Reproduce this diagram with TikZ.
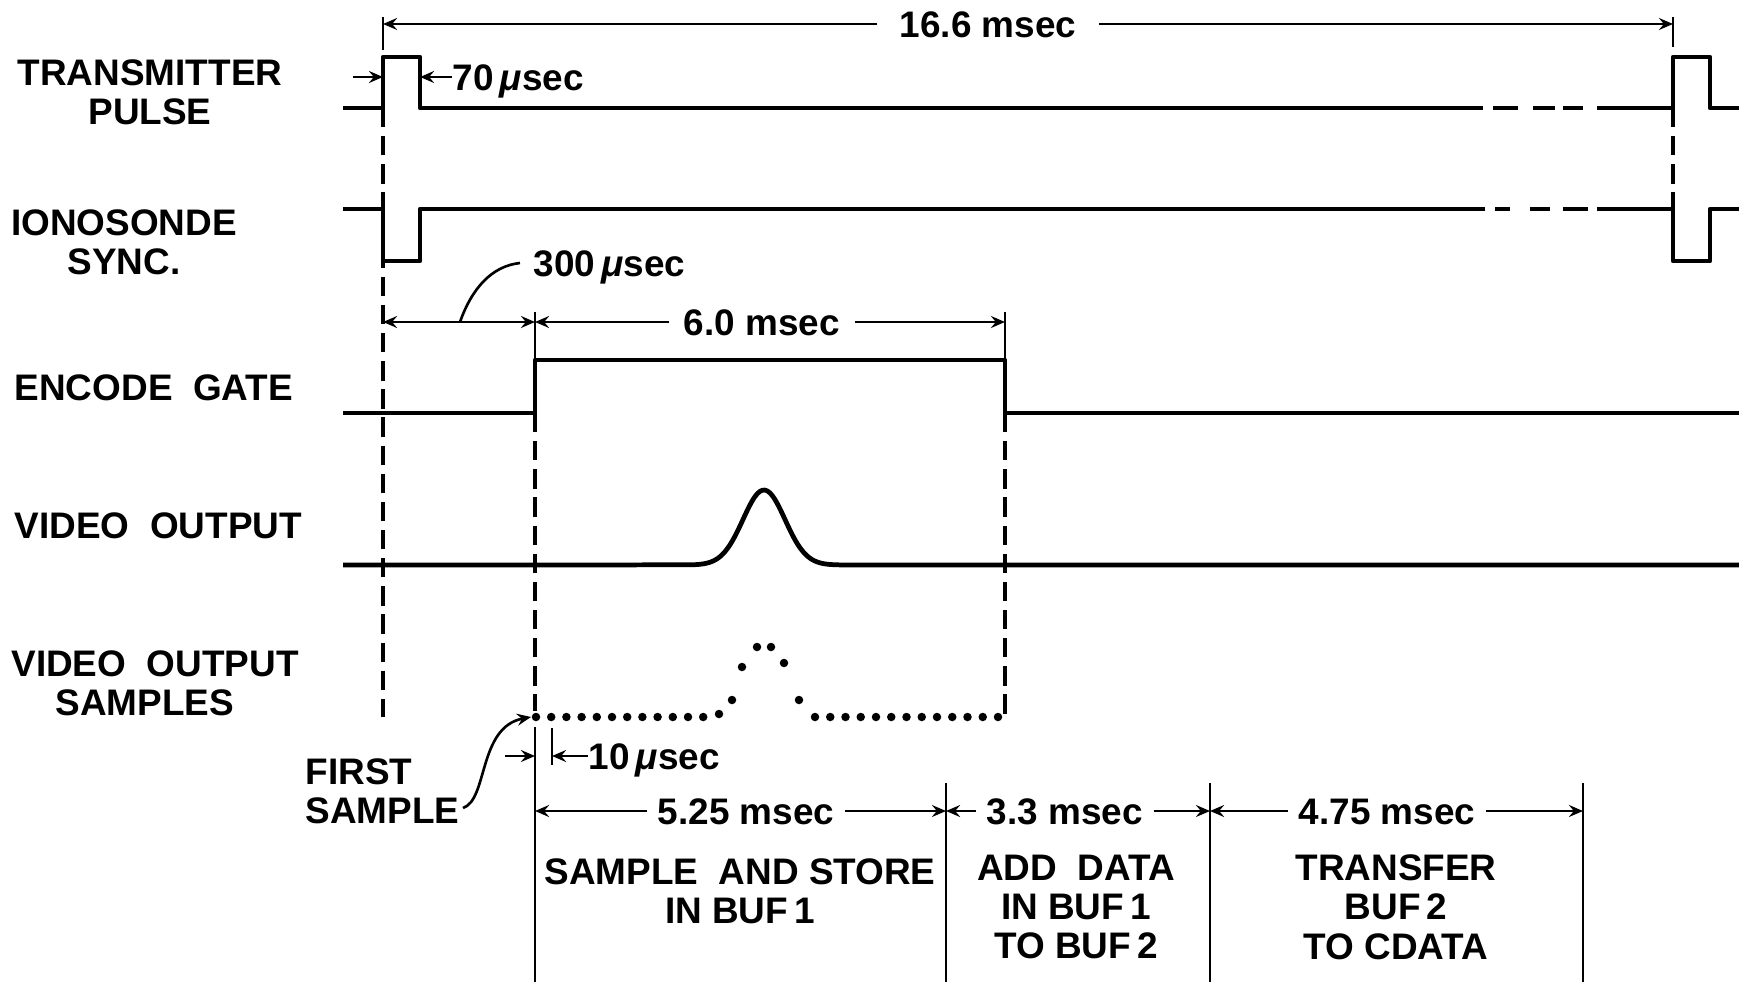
\documentclass[tikz,border=0pt]{standalone}
\usepackage{fontspec}
\setmainfont{Liberation Sans}
\usetikzlibrary{arrows.meta, positioning}

\newcommand{\musec}{{\itshape μ}sec}

\tikzset{
  wave/.style={line width=1.35pt, line join=round},
  guide/.style={line width=1pt, dash pattern=on 5.5pt off 2.5pt},
  dimline/.style={line width=0.75pt},
  dimtip/.style={-{Stealth[length=4pt, width=3.4pt, inset=1.4pt]}},
  dimboth/.style={{Stealth[length=4pt, width=3.4pt, inset=1.4pt]}-{Stealth[length=4pt, width=3.4pt, inset=1.4pt]}},
  sig/.style={font=\fontsize{10.5}{11.2}\selectfont\bfseries, align=center, inner sep=0pt},
  val/.style={font=\fontsize{10.5}{11.2}\selectfont\bfseries, inner sep=0pt, text height=7.6pt, text depth=0pt},
  sampledot/.style={circle, fill, inner sep=0pt, minimum size=0.085cm},
}

\begin{document}
\begin{tikzpicture}[x=0.01cm, y=-0.01cm]

\useasboundingbox (0,0) rectangle (1739,982);

\def \xstart{343}
\def \xend{1739}
\def \xtxon{383}     % transmitter pulse
\def \xtxoff{420}
\def \xgateon{535}   % encode gate
\def \xgateoff{1005}
\def \xnexton{1673}  % next transmitter pulse
\def \xnextoff{1710}
\def \xstore{946}    % end of sample and store
\def \xadd{1210}     % end of add data
\def \xcopy{1583}    % end of transfer

\def \ytop{24}
\def \ytxlo{108}
\def \ytxhi{57}
\def \ysynhi{209}
\def \ysynlo{261}
\def \ygatedim{322}
\def \ygatehi{360}
\def \ygatelo{413}
\def \yvid{565}
\def \ysmp{717}
\def \yphase{811}

% signal names from top to bottom
\node[sig] (tx) at (150,92) {TRANSMITTER\\PULSE};
\node[sig] (sync) at (124,242) {IONOSONDE\\SYNC.};
\node[sig, anchor=west] (gate) at (14,388) {ENCODE\ \ GATE};
\node[sig, anchor=west] (video) at (14,526) {VIDEO\ \ OUTPUT};
\node[sig] (samples) at (155,683) {VIDEO\ \ OUTPUT\\SAMPLES\ \ \ };
\node[sig, align=left, anchor=west] (first) at (305,791) {FIRST\\SAMPLE};

% transmitter pulse
\draw[wave] (\xstart,\ytxlo) -- (\xtxon,\ytxlo) -- (\xtxon,\ytxhi) -- (\xtxoff,\ytxhi) -- (\xtxoff,\ytxlo) -- (1483,\ytxlo);
\draw[wave] (1493,\ytxlo) -- (1518,\ytxlo) (1533,\ytxlo) -- (1555,\ytxlo) (1563,\ytxlo) -- (1583,\ytxlo);
\draw[wave] (1597,\ytxlo) -- (\xnexton,\ytxlo) -- (\xnexton,\ytxhi) -- (\xnextoff,\ytxhi) -- (\xnextoff,\ytxlo) -- (\xend,\ytxlo);

% ionosonde sync
\draw[wave] (\xstart,\ysynhi) -- (\xtxon,\ysynhi) -- (\xtxon,\ysynlo) -- (\xtxoff,\ysynlo) -- (\xtxoff,\ysynhi) -- (1485,\ysynhi);
\draw[wave] (1495,\ysynhi) -- (1510,\ysynhi) (1530,\ysynhi) -- (1550,\ysynhi) (1563,\ysynhi) -- (1588,\ysynhi);
\draw[wave] (1597,\ysynhi) -- (\xnexton,\ysynhi) -- (\xnexton,\ysynlo) -- (\xnextoff,\ysynlo) -- (\xnextoff,\ysynhi) -- (\xend,\ysynhi);

% encode gate
\draw[wave] (\xstart,\ygatelo) -- (\xgateon,\ygatelo) -- (\xgateon,\ygatehi) -- (\xgateoff,\ygatehi) -- (\xgateoff,\ygatelo) -- (\xend,\ygatelo);

% video output
\draw[wave] (\xstart,\yvid) -- plot[domain=690:840, samples=61, smooth] (\x, {\yvid - 75*exp(-((\x-764)/21)^2/2)}) -- (\xend,\yvid);

% video output samples
\foreach \i in {0,...,11}
  \node[sampledot] (ls\i) at (536+15.2*\i, \ysmp) {};
\foreach \px/\py [count=\k] in {719/714, 732/700, 742/667, 757/647, 771/647, 784/663, 799/700}
  \node[sampledot] (pk\k) at (\px,\py) {};
\foreach \i in {0,...,12}
  \node[sampledot] (rs\i) at (815+15.25*\i, \ysmp) {};

% dashed guides
\draw[guide] (\xtxon,\ytxlo) -- (\xtxon,\ysmp);
\draw[guide] (\xgateon,\ygatelo) -- (\xgateon,\ysmp - 6);
\draw[guide] (\xgateoff,\ygatelo) -- (\xgateoff,\ysmp);
\draw[guide] (\xnexton,\ytxlo) -- (\xnexton,\ysynhi);

% ticks
\draw[dimline] (\xtxon,17) -- (\xtxon,50);
\draw[dimline] (\xnexton,17) -- (\xnexton,47);
\draw[dimline] (\xgateon,312) -- (\xgateon,\ygatehi);
\draw[dimline] (\xgateoff,312) -- (\xgateoff,\ygatehi);
\draw[dimline] (552,728) -- (552,765);

% 16.6 msec
\node[val, inner xsep=0.22cm] (t166) at (988,\ytop) {16.6 msec};
\draw[dimline, dimtip] (t166.west) -- (\xtxon,\ytop);
\draw[dimline, dimtip] (t166.east) -- (\xnexton,\ytop);

% 70 usec
\coordinate (in70) at (353,77);
\node[val, anchor=west] (t70) at (452,77) {70\,\musec};
\draw[dimline, dimtip] (in70) -- (\xtxon,77);
\draw[dimline, dimtip] (t70.west) -- (\xtxoff,77);

% 300 usec and 6.0 msec
\draw[dimline, dimboth] (\xtxon,\ygatedim) -- (\xgateon,\ygatedim);
\node[val, anchor=west] (t300) at (533,263) {300\,\musec};
\coordinate (lead300) at (460,\ygatedim);
\draw[dimline] (lead300) .. controls (472,288) and (492,266) .. ([xshift=-0.13cm]t300.west);
\node[val, inner xsep=0.14cm] (t60) at (762,\ygatedim) {6.0 msec};
\draw[dimline, dimtip] (t60.west) -- (\xgateon,\ygatedim);
\draw[dimline, dimtip] (t60.east) -- (\xgateoff,\ygatedim);

% 10 usec and first sample
\coordinate (in10) at (505,756);
\node[val, anchor=west] (t10) at (588,756) {10\,\musec};
\draw[dimline, dimtip] (in10) -- (\xgateon,756);
\draw[dimline, dimtip] (t10.west) -- (552,756);
\coordinate (lead1st) at (463,808);
\draw[dimline, dimtip] (lead1st) .. controls (488,800) and (478,727) .. (ls0.west);

% processing phases
\draw[dimline] (\xgateon,727) -- (\xgateon,982);
\draw[dimline] (\xstore,783) -- (\xstore,982);
\draw[dimline] (\xadd,783) -- (\xadd,982);
\draw[dimline] (\xcopy,783) -- (\xcopy,982);

\node[val, inner xsep=0.1cm] (t525) at (746,\yphase) {5.25 msec};
\draw[dimline, dimtip] (t525.west) -- (\xgateon,\yphase);
\draw[dimline, dimtip] (t525.east) -- (\xstore,\yphase);
\node[val, inner xsep=0.1cm] (t33) at (1065,\yphase) {3.3 msec};
\draw[dimline, dimtip] (t33.west) -- (\xstore,\yphase);
\draw[dimline, dimtip] (t33.east) -- (\xadd,\yphase);
\node[val, inner xsep=0.1cm] (t475) at (1387,\yphase) {4.75 msec};
\draw[dimline, dimtip] (t475.west) -- (\xadd,\yphase);
\draw[dimline, dimtip] (t475.east) -- (\xcopy,\yphase);

\node[sig] (ph1) at (740,891) {SAMPLE\ \ AND STORE\\IN BUF\,1};
\node[sig] (ph2) at (1076,907) {ADD\ \ DATA\\IN BUF\,1\\TO BUF\,2};
\node[sig] (ph3) at (1396,907) {TRANSFER\\BUF\,2\\TO CDATA};

\end{tikzpicture}
\end{document}
